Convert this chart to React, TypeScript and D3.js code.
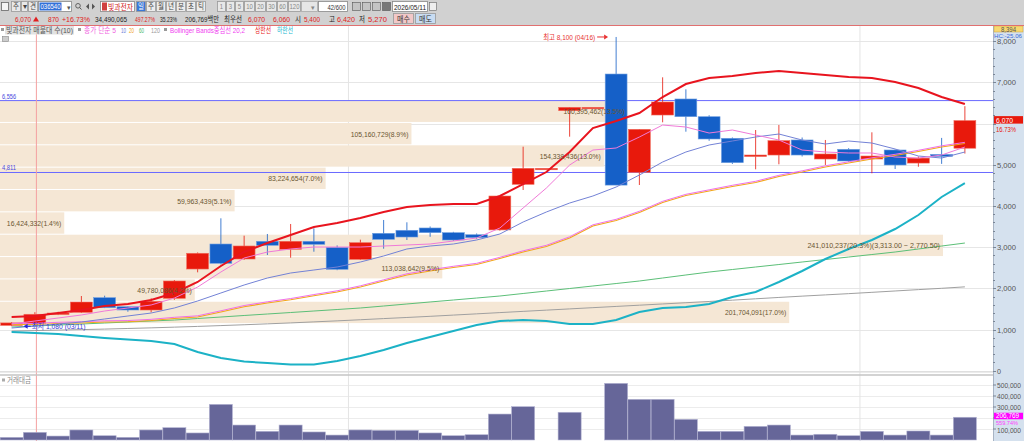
import React from "react";
import * as d3 from "d3";

const W = 1024;
const H = 441;
const PLOT_R = 993;

// 일봉 (03/11 ~ 05/11), 42개
const opens = [1100, 1150, 1370, 1417, 1772, 1553, 1473, 1757, 2468, 3075, 2711, 3141, 2947, 3141, 2995, 2704, 3335, 3408, 3464, 3350, 3300, 3417, 4524, 4913, 6311, 6393, 7201, 4816, 6206, 6595, 6165, 5641, 5235, 5235, 5600, 5138, 5374, 5138, 5357, 5040, 5250, 5400];
const highs = [1180, 1420, 1430, 1813, 1820, 1560, 1757, 2200, 2870, 3699, 3277, 3318, 3561, 3456, 3040, 3180, 3658, 3602, 3500, 3370, 3330, 4240, 5437, 4913, 6393, 6393, 8100, 5859, 7121, 6830, 6200, 5660, 5842, 5964, 5660, 5600, 5400, 5786, 5370, 5200, 5650, 6420];
const lows = [1080, 1140, 1350, 1400, 1520, 1432, 1417, 1720, 2388, 2580, 2690, 2808, 2743, 2888, 2440, 2690, 2961, 3172, 3250, 3150, 3200, 3400, 4386, 4913, 5680, 6393, 4505, 4507, 6029, 5801, 5580, 5020, 4888, 5010, 5200, 4993, 5070, 4791, 4896, 4950, 5020, 5270];
const closes = [1160, 1370, 1400, 1667, 1529, 1473, 1684, 2177, 2850, 2607, 3027, 3044, 3141, 3068, 2461, 3107, 3189, 3245, 3350, 3172, 3230, 4240, 4913, 4913, 6393, 6393, 4505, 5859, 6522, 6165, 5624, 5049, 5235, 5583, 5235, 5260, 5090, 5211, 4993, 5160, 5200, 6070];

// 거래대금 (백만)
const tradeValue = [24500, 70000, 36000, 91000, 39000, 24500, 91000, 112000, 64000, 324000, 136000, 79000, 136000, 73000, 45000, 91000, 88000, 88000, 64000, 39000, 48000, 236000, 303000, 0, 252000, 0, 515000, 370000, 370000, 188000, 79000, 79000, 124000, 136000, 45000, 52000, 39000, 79000, 45000, 82000, 45000, 206769];

// 이동평균 / 볼린저
const ma5 = [1133, 1206, 1279, 1352, 1449, 1522, 1595, 1764, 2031, 2395, 2735, 2881, 2954, 3002, 3002, 3002, 3026, 3051, 3075, 3148, 3221, 3463, 3949, 4434, 4992, 5356, 5405, 5672, 5963, 5915, 5769, 5842, 5720, 5599, 5356, 5308, 5284, 5284, 5187, 5162, 5235, 5429];
const ma10 = [1036, 1085, 1133, 1182, 1255, 1328, 1400, 1522, 1692, 1886, 2080, 2250, 2371, 2444, 2517, 2638, 2784, 2954, 3026, 3075, 3172, 3318, 3609, 3852, 4070, 4240, 4458, 4750, 5065, 5308, 5478, 5575, 5672, 5745, 5599, 5502, 5575, 5526, 5381, 5211, 5162, 5308];
const ma20 = [1121, 1121, 1146, 1158, 1182, 1188, 1218, 1267, 1303, 1425, 1552, 1643, 1722, 1819, 1910, 2031, 2177, 2323, 2420, 2505, 2577, 2723, 2881, 3014, 3221, 3512, 3645, 3840, 4082, 4252, 4361, 4471, 4568, 4713, 4822, 4944, 5041, 5138, 5223, 5320, 5429, 5514];
const ma60 = [1061, 1085, 1109, 1133, 1158, 1182, 1206, 1230, 1267, 1303, 1340, 1376, 1412, 1449, 1485, 1522, 1570, 1619, 1668, 1716, 1764, 1813, 1874, 1934, 1995, 2056, 2116, 2177, 2250, 2323, 2395, 2456, 2517, 2577, 2638, 2699, 2759, 2820, 2881, 2954, 3026, 3099];
const ma120 = [963, 974, 985, 997, 1010, 1025, 1040, 1057, 1075, 1095, 1115, 1137, 1160, 1185, 1210, 1237, 1265, 1292, 1320, 1350, 1380, 1410, 1440, 1470, 1500, 1530, 1560, 1590, 1620, 1650, 1680, 1712, 1745, 1778, 1810, 1840, 1870, 1902, 1935, 1968, 2000, 2035];
const bbUpper = [1303, 1328, 1400, 1473, 1570, 1619, 1716, 1886, 2153, 2541, 2881, 3099, 3293, 3488, 3585, 3706, 3852, 3973, 4022, 4046, 4046, 4240, 4531, 4822, 5308, 5890, 6060, 6254, 6643, 6958, 7104, 7152, 7225, 7274, 7225, 7176, 7128, 7104, 7007, 6861, 6643, 6473];
const bbLower = [939, 915, 891, 842, 794, 757, 721, 648, 454, 308, 223, 187, 150, 150, 235, 357, 502, 672, 818, 964, 1109, 1206, 1230, 1206, 1133, 1133, 1230, 1425, 1522, 1546, 1619, 1789, 1910, 2153, 2420, 2711, 2954, 3172, 3439, 3779, 4216, 4555];

// 매물대 (10개 구간)
const profileLow = [1143, 1685.5, 2228, 2770.5, 3313, 3855.5, 4398, 4940.5, 5483, 6025.5];
const profileStep = 542.5;
const profileVolume = [201704091, 49780086, 113038642, 241010237, 16424332, 59963439, 83224654, 154338436, 105160729, 160395462];
const profilePct = [17.0, 4.2, 9.5, 20.3, 1.4, 5.1, 7.0, 13.0, 8.9, 13.5];

const priceTicks = [0, 1000, 2000, 3000, 4000, 5000, 6000, 7000, 8000];
const volumeTicks = [100000, 200000, 300000, 400000, 500000];
const hLines = [6556, 4811];

const N = closes.length;
const RED = "#e8190c";
const BLUE = "#1560c8";
const FONT = "'Liberation Sans', 'Noto Sans CJK KR', sans-serif";
const fmt = d3.format(",");

// text squeezed to a given width, like the bitmap font of the original
function T({ x, y, w, size = 8, fill = "#222", anchor = "start", children }: any) {
  return (
    <text x={x} y={y} fontSize={size} fill={fill} textAnchor={anchor} textLength={w} lengthAdjust="spacingAndGlyphs">
      {children}
    </text>
  );
}

function Btn({ x, y, w, h, label, fill = "#e8e8e8", color = "#444", tw }: any) {
  return (
    <g>
      <rect x={x + 0.5} y={y + 0.5} width={w} height={h} fill={fill} stroke="#9a9a9a" strokeWidth={0.8} />
      <text x={x + w / 2 + 0.5} y={y + h - 2} textAnchor="middle" fontSize={7.5} fill={color} textLength={tw} lengthAdjust="spacingAndGlyphs">{label}</text>
    </g>
  );
}

function Toolbar() {
  const periods = ["일", "주", "월", "년", "분", "초", "틱"];
  const nums: [string, number, number][] = [["1", 217, 8], ["3", 226, 8], ["5", 235, 8], ["10", 244, 10], ["20", 255, 10], ["30", 266, 10], ["60", 277, 10], ["120", 288, 12]];
  return (
    <g fontFamily={FONT}>
      <rect x={0} y={0} width={W} height={25} fill="#d1d1d1" />
      <rect x={1.5} y={2.5} width={7} height={8} fill="#f4f4f4" stroke="#666" strokeWidth={0.8} />
      <Btn x={11} y={1} w={9} h={10} label="주" tw={6} />
      <Btn x={21} y={1} w={6} h={10} label="▾" />
      <Btn x={28} y={1} w={9} h={10} label="견" tw={6} />
      <rect x={38.5} y={1.5} width={33} height={10} fill="#fff" stroke="#888" strokeWidth={0.8} />
      <rect x={39.5} y={2.5} width={22} height={8} fill="#3470d8" />
      <T x={40.5} y={9} w={20} size={7.5} fill="#fff">036540</T>
      <text x={67} y={9.5} fontSize={7} fill="#555">▾</text>
      <circle cx={78} cy={5.8} r={2.3} fill="none" stroke="#555" strokeWidth={0.9} />
      <line x1={79.6} y1={7.5} x2={81.5} y2={9.5} stroke="#555" strokeWidth={1} />
      <path d="M86,6.5l3,-3v6Z M92,3.5l3,3l-3,3Z" fill="#555" />
      <rect x={100.5} y={1.5} width={34} height={10} fill="#fff" stroke="#888" strokeWidth={0.8} />
      <rect x={102} y={2.5} width={5} height={8} fill="#d04040" />
      <T x={108} y={9.5} w={25} size={8} fill="#d02020">빛과전자</T>
      {periods.map((p, i) => (
        <Btn key={p} x={136 + i * 10} y={1} w={9} h={10} label={p} tw={6} fill={i === 0 ? "#3a78d8" : "#ececec"} color={i === 0 ? "#fff" : "#444"} />
      ))}
      {nums.map(([t, bx, bw]) => (
        <Btn key={t} x={bx} y={1} w={bw} h={10} label={t} color="#888" tw={t.length * 3.3} />
      ))}
      <rect x={301.5} y={1.5} width={16} height={10} fill="#e6e6e6" stroke="#aaa" strokeWidth={0.8} />
      <text x={311} y={9.5} fontSize={7} fill="#888">▾</text>
      <rect x={318.5} y={1.5} width={29} height={10} fill="#fff" stroke="#888" strokeWidth={0.8} />
      <T x={345.5} y={9.5} w={18} size={8} fill="#333" anchor="end">42/600</T>
      {[352, 362, 372, 382].map((ix, i) => (
        <rect key={ix} x={ix + 0.5} y={2.5} width={8} height={8} fill={i === 3 ? "#777" : "#c4c4c4"} stroke="#555" strokeWidth={0.6} />
      ))}
      <rect x={392.5} y={1.5} width={35} height={10} fill="#fff" stroke="#888" strokeWidth={0.8} />
      <T x={394} y={9.5} w={32} size={8}>2026/05/11</T>
      <rect x={429.5} y={2.5} width={7} height={8} fill="#eee" stroke="#666" strokeWidth={0.6} />

      <T x={15} y={21.5} w={16} fill="#e02020">6,070</T>
      <path d="M33,21.5l3,-5l3,5Z" fill="#e02020" />
      <T x={48} y={21.5} w={11} fill="#e02020">870</T>
      <T x={62} y={21.5} w={28} fill="#e02020">+16.73%</T>
      <T x={95} y={21.5} w={32}>34,490,065</T>
      <T x={135} y={21.5} w={20} fill="#e02020">497.27%</T>
      <T x={160} y={21.5} w={17}>35.23%</T>
      <T x={185} y={21.5} w={34}>206,769백만</T>
      <T x={224} y={21.5} w={18}>최우선</T>
      <T x={248} y={21.5} w={17} fill="#e02020">6,070</T>
      <T x={273} y={21.5} w={17} fill="#e02020">6,060</T>
      <T x={295} y={21.5} w={6}>시</T>
      <T x={304} y={21.5} w={16} fill="#e02020">5,400</T>
      <T x={329} y={21.5} w={6}>고</T>
      <T x={337} y={21.5} w={18} fill="#e02020">6,420</T>
      <T x={359} y={21.5} w={6}>저</T>
      <T x={368} y={21.5} w={19} fill="#e02020">5,270</T>
      <rect x={393.5} y={13.5} width={20} height={10} fill="#f2c8c8" stroke="#999" strokeWidth={0.8} />
      <T x={397} y={21.5} w={13} fill="#333">매수</T>
      <rect x={415.5} y={13.5} width={20} height={10} fill="#c8dcf2" stroke="#999" strokeWidth={0.8} />
      <T x={419} y={21.5} w={13} fill="#333">매도</T>
      <line x1={0} x2={W} y1={25.5} y2={25.5} stroke="#e07070" strokeWidth={1} />
    </g>
  );
}

export default function App() {
  const x = d3.scaleBand<number>().domain(d3.range(N)).range([0, 976.5]).paddingInner(0.06).paddingOuter(0.03);
  const bw = x.bandwidth();
  const cx = (i: number) => (x(i) as number) + bw / 2;
  const y = d3.scaleLinear().domain([0, 8000]).range([370.7, 41.1]);
  const yv = d3.scaleLinear().domain([0, 500000]).range([440, 385]);
  const px = d3.scaleLinear().domain([0, d3.max(profileVolume) as number]).range([0, 943]);
  const path = (arr: number[]) => d3.line<number>().x((_, i) => cx(i)).y((v) => y(v))(arr) as string;
  const minorTicks = d3.range(0, 8200, 200);
  const maxIdx = profileVolume.indexOf(d3.max(profileVolume) as number);
  const hiIdx = highs.indexOf(d3.max(highs) as number);
  const loIdx = lows.indexOf(d3.min(lows) as number);
  const monthStarts = [15, 37];
  const last = N - 1;
  const lastY = y(closes[last]);
  // axis labels hidden under the current-value boxes
  const shownPriceTicks = priceTicks.filter((t) => Math.abs(y(t) - lastY) > 9);
  const shownVolTicks = volumeTicks.filter((t) => Math.abs(yv(t) - yv(tradeValue[last])) > 6);

  return (
    <div style={{ width: W, height: H, overflow: "hidden" }}>
      <style>{"body{margin:0;overflow:hidden}"}</style>
      <svg width={W} height={H} style={{ display: "block", fontFamily: FONT }}>
        <rect width={W} height={H} fill="#fff" />
        <defs>
          <clipPath id="pricePanel"><rect x={0} y={26} width={PLOT_R} height={346} /></clipPath>
          <clipPath id="volPanel"><rect x={0} y={376} width={PLOT_R} height={65} /></clipPath>
        </defs>

        {/* grids */}
        {priceTicks.map((t) => (
          <line key={t} x1={0} x2={PLOT_R} y1={Math.round(y(t)) + 0.5} y2={Math.round(y(t)) + 0.5} stroke="#e6e6e6" />
        ))}
        {volumeTicks.map((t) => (
          <line key={t} x1={0} x2={PLOT_R} y1={Math.round(yv(t)) + 0.5} y2={Math.round(yv(t)) + 0.5} stroke="#ececec" />
        ))}
        {monthStarts.map((m) => (
          <line key={m} x1={(x(m) as number) - 1} x2={(x(m) as number) - 1} y1={26} y2={H} stroke="#e4e4e4" />
        ))}

        {/* 매물대 */}
        <g clipPath="url(#pricePanel)">
          {profileLow.map((lo, i) => (
            <rect key={i} x={0} width={px(profileVolume[i])} y={y(lo + profileStep) + 0.5} height={y(lo) - y(lo + profileStep) - 1} fill="#f5e7d5" />
          ))}
        </g>

        {/* 기준선 */}
        {hLines.map((v) => (
          <g key={v}>
            <line x1={0} x2={PLOT_R} y1={y(v)} y2={y(v)} stroke="#6a6aff" strokeWidth={1} />
            <T x={2} y={y(v) - 2} w={14} size={7.5} fill="#4848e0">{fmt(v)}</T>
          </g>
        ))}

        <line x1={cx(1) + 1.5} x2={cx(1) + 1.5} y1={26} y2={H} stroke="#f4a0a0" strokeWidth={1} />

        {/* candles */}
        <g clipPath="url(#pricePanel)">
          {closes.map((c, i) => {
            const o = opens[i];
            const up = c >= o;
            const col = up ? RED : BLUE;
            const top = y(Math.max(o, c));
            const bot = y(Math.min(o, c));
            return (
              <g key={i}>
                <line x1={cx(i)} x2={cx(i)} y1={y(highs[i])} y2={y(lows[i])} stroke={col} strokeWidth={1} opacity={0.8} />
                <rect x={x(i)} y={top} width={bw} height={Math.max(bot - top, 1.5)} fill={col} stroke={up ? "#f06a5a" : "#6e9ee0"} strokeWidth={0.6} />
              </g>
            );
          })}

          {/* lines */}
          <path d={path(ma120)} fill="none" stroke="#a0a0a0" strokeWidth={1} />
          <path d={path(ma60)} fill="none" stroke="#5cbf78" strokeWidth={1} />
          <path d={path(ma20)} fill="none" stroke="#f2a81c" strokeWidth={1.2} />
          <path d={path(ma20)} fill="none" stroke="#f070e8" strokeWidth={1} transform="translate(0,-1.2)" />
          <path d={path(ma10)} fill="none" stroke="#7382d6" strokeWidth={1} />
          <path d={path(ma5)} fill="none" stroke="#f07ad8" strokeWidth={1} />
          <path d={path(bbUpper)} fill="none" stroke="#e8141e" strokeWidth={2} />
          <path d={path(bbLower)} fill="none" stroke="#1cb2c6" strokeWidth={2} />
        </g>

        {/* 매물대 labels */}
        <g fontSize={7.5} fill="#6a5530">
          {profileLow.map((lo, i) => {
            const label = `${fmt(profileVolume[i])}(${profilePct[i].toFixed(1)}%)` +
              (i === maxIdx ? `(${d3.format(",.2f")(lo + profileStep)} ~ ${d3.format(",.2f")(lo)})` : "");
            return (
              <text key={i} x={px(profileVolume[i]) - 3} y={y(lo + profileStep / 2) + 3} textAnchor="end" textLength={label.length * 3.4} lengthAdjust="spacingAndGlyphs">
                {label}
              </text>
            );
          })}
        </g>

        {/* 최고/최저 */}
        <T x={cx(hiIdx) - 21} y={y(highs[hiIdx]) + 3} w={52} fill="#e83030" anchor="end">{`최고 ${fmt(highs[hiIdx])} (04/16)`}</T>
        <line x1={cx(hiIdx) - 19} x2={cx(hiIdx) - 12} y1={y(highs[hiIdx])} y2={y(highs[hiIdx])} stroke="#e83030" />
        <path d={`M${cx(hiIdx) - 12},${y(highs[hiIdx]) - 2.5}L${cx(hiIdx) - 8},${y(highs[hiIdx])}L${cx(hiIdx) - 12},${y(highs[hiIdx]) + 2.5}Z`} fill="#e83030" />
        <path d={`M${cx(loIdx) + 12},${y(lows[loIdx])}l4,-2.5v5Z`} fill="#2424d8" />
        <line x1={cx(loIdx) + 15} x2={cx(loIdx) + 19} y1={y(lows[loIdx])} y2={y(lows[loIdx])} stroke="#2424d8" />
        <T x={cx(loIdx) + 20} y={y(lows[loIdx]) + 3} w={54} fill="#3a3ad8">{`최저 ${fmt(lows[loIdx])} (03/11)`}</T>

        {/* volume panel */}
        <line x1={0} x2={PLOT_R} y1={372} y2={372} stroke="#d8d8d8" />
        <line x1={0} x2={W} y1={375} y2={375} stroke="#c4c4c4" strokeWidth={1.5} />
        <g clipPath="url(#volPanel)">
          {tradeValue.map((v, i) => (
            v > 0 ? <rect key={i} x={(x(i) as number) - 0.6} y={yv(v)} width={bw + 1.2} height={yv(0) - yv(v)} fill="#666699" stroke="#b4b4d2" strokeWidth={0.6} /> : null
          ))}
        </g>
        <rect x={2} y={378.5} width={3} height={3} fill="#aaa" />
        <T x={7} y={382.5} w={24} size={7.5} fill="#888">거래대금</T>

        {/* legend */}
        <g>
          <rect x={1} y={28} width={3} height={3} fill="#999" />
          <rect x={5} y={26} width={69} height={8.5} fill="#e2e2e2" />
          <T x={6} y={32.8} w={67} size={7.5} fill="#555">빛과전자 매물대 수(10)</T>
          <rect x={78} y={28} width={3} height={3} fill="#999" />
          <T x={84} y={32.8} w={32} size={7.5} fill="#f060e0">종가 단순 5</T>
          <T x={121} y={32.8} w={5} size={7.5} fill="#6a7ad8">10</T>
          <T x={129} y={32.8} w={5} size={7.5} fill="#f0a020">20</T>
          <T x={139} y={32.8} w={5} size={7.5} fill="#50b870">60</T>
          <T x={151} y={32.8} w={9} size={7.5} fill="#999">120</T>
          <rect x={164} y={28} width={3} height={3} fill="#999" />
          <T x={170} y={32.8} w={75} size={7.5} fill="#f040f0">Bollinger Bands중심선 20,2</T>
          <T x={255} y={32.8} w={16} size={7.5} fill="#e82020">상한선</T>
          <T x={277} y={32.8} w={16} size={7.5} fill="#20b8d0">하한선</T>
          <rect x={2.5} y={36.5} width={6} height={5} fill="#ccc" stroke="#888" strokeWidth={0.6} />
        </g>

        {/* right axis */}
        <rect x={PLOT_R} y={26} width={W - PLOT_R} height={H - 26} fill="#d5e1ee" />
        <line x1={PLOT_R + 0.5} x2={PLOT_R + 0.5} y1={26} y2={H} stroke="#a8b4c4" />
        {minorTicks.map((t) => (
          <line key={t} x1={PLOT_R} x2={PLOT_R + (t % 1000 === 0 ? 3 : 2)} y1={Math.round(y(t)) + 0.5} y2={Math.round(y(t)) + 0.5} stroke="#7a8696" />
        ))}
        {shownPriceTicks.map((t) => (
          <T key={t} x={PLOT_R + 4} y={y(t) + 3} w={t === 0 ? 4 : 19} size={8} fill="#555">{fmt(t)}</T>
        ))}
        {volumeTicks.map((t) => (
          <line key={t} x1={PLOT_R} x2={PLOT_R + 3} y1={yv(t)} y2={yv(t)} stroke="#7a8696" />
        ))}
        {shownVolTicks.map((t) => (
          <T key={t} x={PLOT_R + 4} y={yv(t) + (t === 100000 ? 3.5 : 3)} w={24} size={7.5} fill="#555">{fmt(t)}</T>
        ))}
        <rect x={PLOT_R + 1} y={26} width={29} height={6} fill="#f8d870" stroke="#c8a040" strokeWidth={0.5} />
        <T x={PLOT_R + 8} y={31.5} w={15} size={6.5} fill="#555">8,394</T>
        <T x={PLOT_R + 1} y={38} w={28} size={6} fill="#3a6ad8">HC:-25.06</T>
        <rect x={PLOT_R + 1} y={lastY - 4.5} width={29} height={7.5} fill="#e8190c" />
        <T x={PLOT_R + 3} y={lastY + 2} w={17} size={7} fill="#fff">{fmt(closes[last])}</T>
        <T x={PLOT_R + 3} y={lastY + 11} w={20} size={6.5} fill="#e8190c">16.73%</T>
        <rect x={PLOT_R + 1} y={yv(tradeValue[last]) - 4.5} width={29} height={6.5} fill="#ff00ff" />
        <T x={PLOT_R + 3} y={yv(tradeValue[last]) + 1.2} w={23} size={6.5} fill="#fff">{fmt(tradeValue[last])}</T>
        <T x={PLOT_R + 3} y={yv(tradeValue[last]) + 7.8} w={22} size={6} fill="#ff40ff">559.74%</T>

        <Toolbar />
      </svg>
    </div>
  );
}
